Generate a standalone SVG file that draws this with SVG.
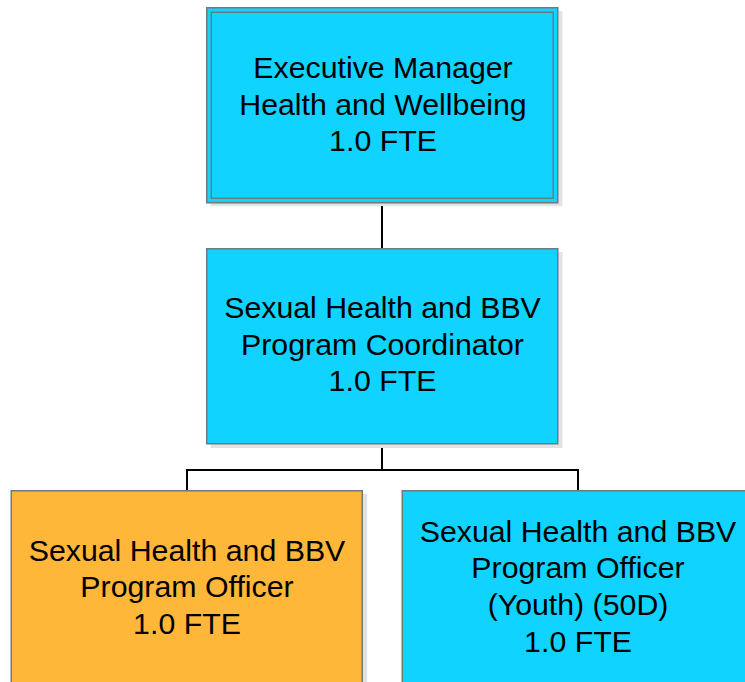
<svg xmlns="http://www.w3.org/2000/svg" width="745" height="682" viewBox="0 0 745 682">
<style>
.box{stroke:#6d7a80;stroke-width:1.5}
.cyan{fill:#10D3FF}
.orange{fill:#FFB739}
.shadow{fill:#e3e3e3}
.inner{fill:none;stroke:#6d7a80;stroke-width:1.5}
.conn{stroke:#000;stroke-width:2;fill:none}
text{font-family:"Liberation Sans",Arial,sans-serif;font-size:30.3px;fill:#000;text-anchor:middle}
</style>
<rect width="745" height="682" fill="#fff"/>
<g id="connectors">
<line class="conn" x1="382" y1="203" x2="382" y2="248"/>
<line class="conn" x1="382" y1="444" x2="382" y2="470"/>
<polyline class="conn" points="187,490 187,470 578,470 578,490"/>
</g>
<g id="exec">
<rect class="shadow" x="210.5" y="11" width="352" height="195"/>
<rect class="box cyan" x="206.75" y="7.75" width="351" height="195"/>
<rect class="inner" x="211.25" y="12.25" width="342" height="186"/>
<text x="383" y="78">Executive Manager</text>
<text x="383" y="114.5">Health and Wellbeing</text>
<text x="383" y="151">1.0 FTE</text>
</g>
<g id="coordinator">
<rect class="shadow" x="210.5" y="252" width="352" height="196"/>
<rect class="box cyan" x="206.75" y="248.75" width="351" height="195"/>
<text x="382.5" y="318">Sexual Health and BBV</text>
<text x="382.5" y="355">Program Coordinator</text>
<text x="382.5" y="391">1.0 FTE</text>
</g>
<g id="officer">
<rect class="shadow" x="15" y="494" width="352" height="200"/>
<rect class="box orange" x="11.25" y="490.75" width="351" height="200"/>
<text x="187" y="560.5">Sexual Health and BBV</text>
<text x="187" y="597">Program Officer</text>
<text x="187" y="633.5">1.0 FTE</text>
</g>
<g id="youth-officer">
<rect class="shadow" x="406" y="494" width="352" height="200"/>
<rect class="box cyan" x="402.25" y="490.75" width="351" height="200"/>
<text x="578" y="541.5">Sexual Health and BBV</text>
<text x="578" y="578">Program Officer</text>
<text x="578" y="615">(Youth) (50D)</text>
<text x="578" y="651.5">1.0 FTE</text>
</g>
</svg>
